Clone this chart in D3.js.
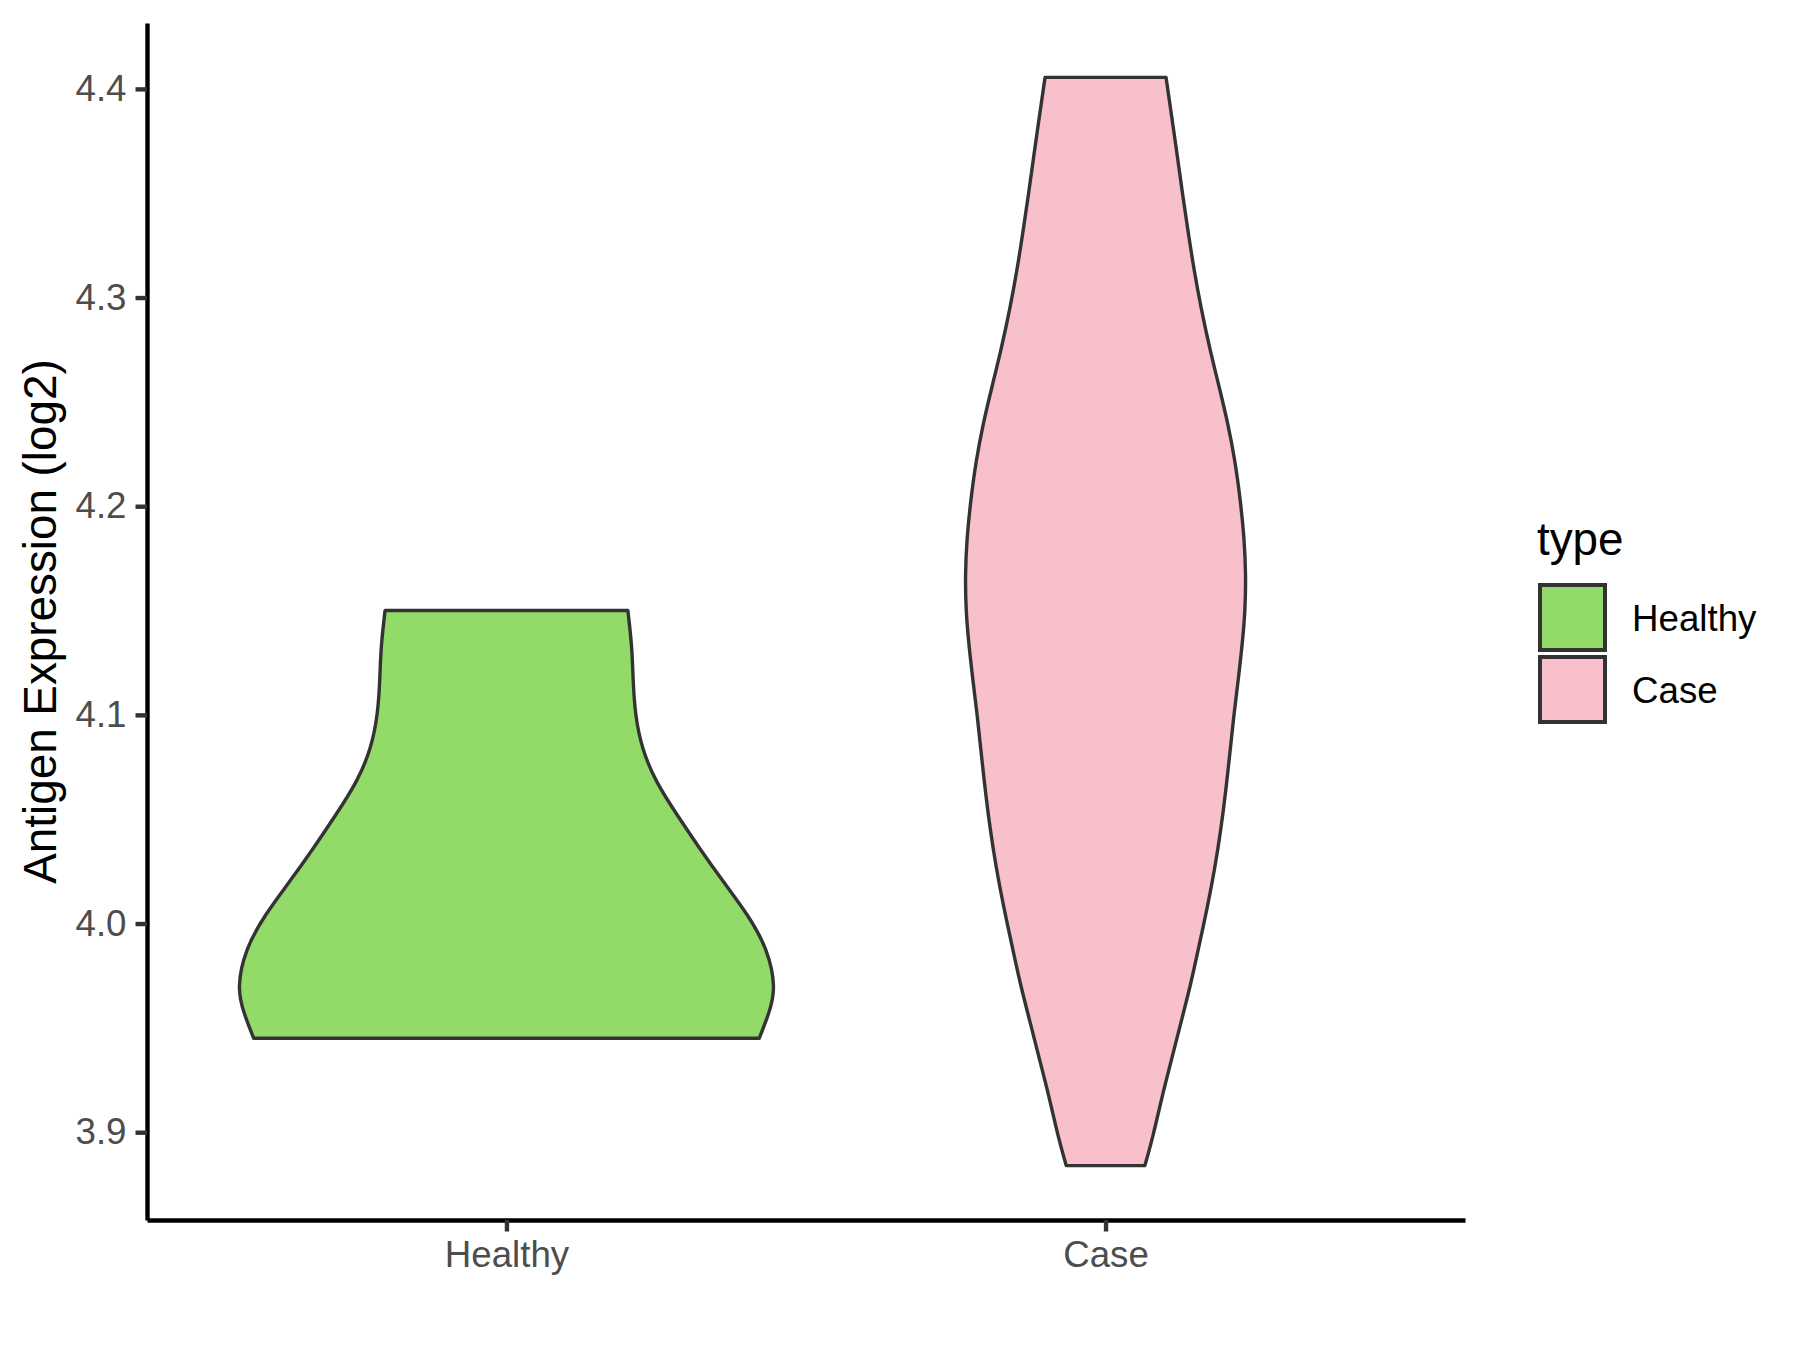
<!DOCTYPE html>
<html>
<head>
<meta charset="utf-8">
<script src="https://cdn.jsdelivr.net/npm/d3@7"></script>
<style>
body { margin: 0; background: #fff; }
text { font-family: "Liberation Sans", Arial, sans-serif; }
</style>
</head>
<body>
<svg id="chart" width="1800" height="1350"></svg>
<script>
// groups and colours
var groups = ["Healthy", "Case"];
var fills = ["#93DB69", "#F7C0CB"];
var yTicks = [3.9, 4.0, 4.1, 4.2, 4.3, 4.4];

// violin outlines: expression value and density
var healthyValues  = [3.945, 3.957, 3.969, 3.988, 4.004, 4.020, 4.036, 4.052, 4.068, 4.084, 4.100, 4.116, 4.132, 4.150];
var healthyDensity = [5.85, 6.08, 6.24, 6.04, 5.60, 5.02, 4.47, 3.95, 3.45, 3.13, 2.98, 2.93, 2.91, 2.81];

var caseValues  = [3.884, 3.898, 3.9165, 3.935, 3.953, 3.9715, 3.990, 4.008, 4.0265, 4.045, 4.063, 4.082, 4.100, 4.118, 4.137, 4.150, 4.1665, 4.185, 4.203, 4.2215, 4.240, 4.258, 4.2765, 4.295, 4.313, 4.3315, 4.350, 4.368, 4.387, 4.4055];
var caseDensity = [0.91, 1.10, 1.30, 1.53, 1.75, 1.98, 2.17, 2.36, 2.53, 2.67, 2.78, 2.88, 2.97, 3.08, 3.18, 3.23, 3.25, 3.21, 3.12, 3.00, 2.83, 2.62, 2.40, 2.21, 2.05, 1.91, 1.78, 1.66, 1.53, 1.40];

var violins = [
    { key: "Healthy", values: healthyValues, density: healthyDensity },
    { key: "Case", values: caseValues, density: caseDensity }
];

// panel edges
var panelLeft = 147, panelRight = 1465, panelTop = 23, panelBottom = 1220;

var svg = d3.select("#chart");

// scales
var allValues = healthyValues.concat(caseValues);
var lo = d3.min(allValues), hi = d3.max(allValues);
var pad = (hi - lo) * 0.05;

var y = d3.scaleLinear()
    .domain([lo - pad, hi + pad])
    .range([panelBottom, panelTop]);

var x = d3.scalePoint()
    .domain(groups)
    .range([panelLeft, panelRight])
    .padding(0.6);

var color = d3.scaleOrdinal()
    .domain(groups)
    .range(fills);

var maxDensity = d3.max(healthyDensity.concat(caseDensity));
var w = d3.scaleLinear()
    .domain([0, maxDensity])
    .range([0, x.step() * 0.45]);

// violins
violins.forEach(function (v) {
    var cx = x(v.key);
    var pts = v.values.map(function (val, i) {
        return { v: val, d: v.density[i] };
    });

    var area = d3.area()
        .curve(d3.curveBasis)
        .y(function (d) { return y(d.v); })
        .x0(function (d) { return cx - w(d.d); })
        .x1(function (d) { return cx + w(d.d); });

    svg.append("path")
        .datum(pts)
        .attr("d", area)
        .attr("fill", color(v.key))
        .attr("stroke", "#333333")
        .attr("stroke-width", 3.4)
        .attr("stroke-linejoin", "round");
});

// y axis
var yAxis = svg.append("g")
    .attr("transform", "translate(" + panelLeft + ",0)")
    .call(d3.axisLeft(y)
        .tickValues(yTicks)
        .tickFormat(d3.format(".1f"))
        .tickSize(11.5)
        .tickSizeOuter(0)
        .tickPadding(9));

// x axis
var xAxis = svg.append("g")
    .attr("transform", "translate(0," + panelBottom + ")")
    .call(d3.axisBottom(x)
        .tickSize(11.5)
        .tickSizeOuter(0)
        .tickPadding(9));

[yAxis, xAxis].forEach(function (a) {
    a.select(".domain")
        .attr("stroke", "#000")
        .attr("stroke-width", 4.4);
    a.selectAll(".tick line")
        .attr("stroke", "#333333")
        .attr("stroke-width", 4.4);
    a.selectAll(".tick text")
        .attr("fill", "#4D4D4D")
        .style("font-size", "36.7px")
        .style("font-family", "'Liberation Sans', Arial, sans-serif");
});

// y title
svg.append("text")
    .attr("transform", "translate(56," + ((panelTop + panelBottom) / 2) + ") rotate(-90)")
    .attr("text-anchor", "middle")
    .style("font-size", "45.8px")
    .attr("fill", "#000")
    .text("Antigen Expression (log2)");

// legend
svg.append("text")
    .attr("x", 1537)
    .attr("y", 555)
    .style("font-size", "45.8px")
    .attr("fill", "#000")
    .text("type");

groups.forEach(function (g, i) {
    var ky = 585 + i * 72;
    svg.append("rect")
        .attr("x", 1540)
        .attr("y", ky)
        .attr("width", 65)
        .attr("height", 65)
        .attr("fill", color(g))
        .attr("stroke", "#333333")
        .attr("stroke-width", 4);
    svg.append("text")
        .attr("x", 1632)
        .attr("y", ky + 32.5 + 13)
        .style("font-size", "36.7px")
        .attr("fill", "#000")
        .text(g);
});
</script>
</body>
</html>
